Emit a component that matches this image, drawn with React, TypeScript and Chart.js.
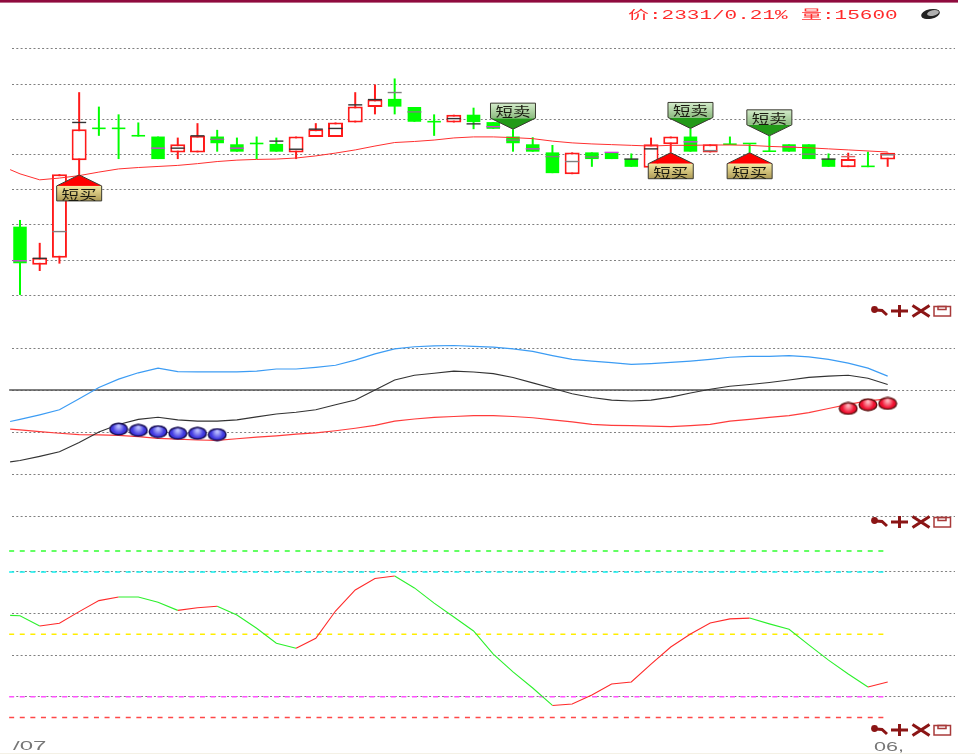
import React, { useEffect, useRef } from "react";
import Chart from "chart.js/auto";

const opens = [2309.5,2298.7,2300.7,2328.4,2337.2,2337.2,2335.1,2335.1,2330.6,2330.6,2335.1,2332.9,2332.9,2333,2330.6,2335,2335,2339.1,2343.5,2345.8,2343.5,2339.1,2339.1,2341.3,2339.2,2335.1,2332.9,2330.6,2324.4,2330.6,2330.6,2328.7,2326.2,2332.9,2335.1,2330.6,2332.7,2332.9,2330.7,2332.9,2332.9,2328.7,2326.4,2326.4,2328.6];
const closes = [2299.1,2300.7,2324.4,2337.2,2337.2,2337.2,2335.1,2328.7,2332.9,2335.3,2333.2,2330.8,2332.9,2330.8,2335.1,2337.2,2339.1,2343.6,2345.6,2343.6,2339.3,2339.1,2341.3,2339.2,2337.3,2333.2,2330.8,2324.7,2330.6,2328.7,2328.7,2326.5,2332.9,2335.1,2330.8,2332.9,2332.7,2332.9,2330.7,2330.8,2328.7,2326.5,2328.7,2326.4,2330.5];
const highs = [2311.4,2304.9,2324.4,2347.7,2343.6,2341.4,2339.1,2335.1,2334.8,2338.9,2337,2334.8,2335.1,2334.8,2335.1,2338.9,2339.1,2347.7,2349.9,2351.6,2343.5,2341.4,2341.3,2343.3,2339.2,2337.2,2334.9,2332.7,2330.6,2330.6,2330.6,2330.3,2334.8,2335.1,2337.4,2332.9,2335.1,2332.9,2335.3,2332.9,2332.9,2330.3,2330.5,2330.8,2330.5];
const lows = [2290.1,2296.9,2299,2324.2,2335.3,2328.7,2335.1,2328.7,2328.7,2330.6,2330.8,2330.8,2328.7,2330.8,2328.7,2335,2335,2339.1,2341.4,2341.4,2339.3,2335.3,2339.1,2337.2,2337.3,2330.8,2330.8,2324.7,2324.4,2326.5,2328.7,2326.5,2326.2,2330.5,2330.8,2330.6,2332.7,2330.5,2330.7,2330.8,2328.7,2326.5,2326.4,2326.4,2326.5];
const avgMarks = [2299.8,2300.5,2308.1,2339.1,null,null,null,2331.8,2331.8,2335.3,2334.3,2331.8,null,2333.8,2331.5,2337.2,2337.4,2344.1,2345.6,2347.6,2342.1,null,2340.2,2338.7,2337.9,2334.1,2331.6,2329.4,2328,2329.3,2330.6,2328.7,2331.6,null,2333.6,2331.1,null,null,null,2332.2,2330.1,2328.7,2329.4,null,2329.9];
const avgMarkKinds = "MDGD...MDDGM.DDDDDDGG.DDMGMGGGMDD.MG...MGDR.G";
const priceAvg = [2325.7,2324.5,2322.8,2323.3,2324,2325,2325.9,2326.3,2326.6,2326.9,2327.4,2328,2328.4,2328.6,2328.7,2329,2329.6,2330.4,2331.3,2332.4,2333.4,2333.7,2334.1,2334.7,2335,2335,2334.8,2334.5,2333.8,2333.3,2333,2332.8,2332.6,2332.4,2332.6,2332.6,2332.7,2332.7,2332.6,2332.3,2332.1,2331.9,2331.6,2331.3,2331,2330.7];
const buyAt = [3, 33, 37];
const sellAt = [25, 34, 38];

const upperLine = [-7.5,-7,-5.9,-4.7,-2.1,0.6,2.6,4.1,5.2,4.4,4.3,4.3,4.3,4.5,5,5,5.4,5.9,7.1,8.6,9.8,10.3,10.5,10.6,10.4,10.2,9.8,9.2,8.2,7.3,6.9,6.5,6.1,6.3,6.6,6.9,7.3,7.8,8,8,8.2,7.9,7.3,6.4,5.2,3.3];
const midLine = [-17.1,-16.8,-15.8,-14.7,-12.5,-10,-8.2,-7,-6.5,-7.1,-7.4,-7.4,-7.1,-6.4,-5.7,-5.3,-4.7,-3.5,-2.4,0,2.4,3.5,4,4.5,4.3,3.9,3,1.7,0.4,-0.9,-1.8,-2.4,-2.6,-2.4,-1.7,-0.7,0.2,0.9,1.3,1.8,2.4,3,3.3,3.5,2.8,1.3];
const lowerLine = [-9.3,-9.5,-9.9,-10.3,-10.6,-10.7,-10.8,-11.1,-11.5,-11.7,-11.9,-12,-11.6,-11.2,-10.9,-10.5,-10.2,-9.7,-9.1,-8.4,-7.4,-6.9,-6.5,-6.3,-6.1,-6.1,-6.3,-6.6,-7.1,-7.6,-8.2,-8.4,-8.5,-8.6,-8.7,-8.5,-8.2,-7.4,-7,-6.5,-6.1,-5.4,-4.4,-3.4,-2.6,-2.1];
const blueBallIndex = [5, 6, 7, 8, 9, 10];
const blueBallValues = [-9.3, -9.6, -9.9, -10.3, -10.3, -10.6];
const redBallIndex = [42, 43, 44];
const redBallValues = [-4.4, -3.5, -3.2];

const oscillator = [59.1,58.9,54,55.3,60.9,66.2,67.9,67.9,65.4,61.5,62.8,63.5,59.3,52.9,45.7,43.3,48.1,61.2,71.3,76.8,78,72.3,65,58.3,51.6,40.5,31.9,24.2,15.8,16.5,20.8,26.1,27.1,35.7,43.9,50.1,55.4,57.4,57.8,55,52.4,44.9,37.6,30.9,24.7,27.1];
const levels = [90, 80, 50, 20, 10];
const levelColors = ["#30ff30", "#10f0f0", "#ffee00", "#ff50ff", "#ff4848"];

const priceGrid = [2360, 2350, 2340, 2330, 2320, 2310, 2300, 2290];
const macdGrid = [10, 0, -10, -20, -30];
const oscGrid = [80, 60, 40, 20];
const macdMinorTicks = [20.8,19.2,17.6,11.9,7.9,5.9,4,2.1,-2.1,-3.9,-6,-7.9,-11.9,-13.9,-16,-18,-21.9,-24,-26,-27.9];
const oscMinorTicks = [91.8,87.6,84.1,75.8,71.9,67.8,63.8,55.9,51.7,48.1,43.9,36.1,31.9,27.9,24,15.9,12,8,3.8];

const headerPrice = "价:2331/0.21%";
const headerVolume = "量:15600";
const dateLeft = "/07";
const dateRight = "06,";
const buyText = "短买";
const sellText = "短卖";

const RED = "#ff1a1a";
const GREEN = "#00ff00";
const markColor: Record<string, string> = { M: "#d040d8", D: "#333333", G: "#808080", R: "#e06060" };

function makeBall(light: string, main: string, edge: string) {
  const c = document.createElement("canvas");
  c.width = 20;
  c.height = 14;
  const g = c.getContext("2d")!;
  const grad = g.createRadialGradient(10, 4, 1, 10, 7, 10);
  grad.addColorStop(0, light);
  grad.addColorStop(0.55, main);
  grad.addColorStop(1, main);
  g.fillStyle = grad;
  g.strokeStyle = edge;
  g.lineWidth = 1.5;
  g.beginPath();
  g.ellipse(10, 7, 8.8, 5.8, 0, 0, Math.PI * 2);
  g.fill();
  g.stroke();
  return c;
}

function pentagon(g: CanvasRenderingContext2D, x: number, tip: number, dir: 1 | -1, fillTri: string, c1: string, c2: string, text: string) {
  const hw = 22.5;
  const shoulder = tip + dir * 11;
  const far = tip + dir * 26;
  g.save();
  g.beginPath();
  g.moveTo(x, tip);
  g.lineTo(x + hw, shoulder);
  g.lineTo(x - hw, shoulder);
  g.closePath();
  g.fillStyle = fillTri;
  g.fill();
  const top = Math.min(shoulder, far);
  const h = Math.abs(far - shoulder);
  const grad = g.createLinearGradient(0, top, 0, top + h);
  grad.addColorStop(0, c1);
  grad.addColorStop(1, c2);
  g.fillStyle = grad;
  g.fillRect(x - hw, top, hw * 2, h);
  g.strokeStyle = "#3a3a30";
  g.lineWidth = 1;
  g.beginPath();
  g.moveTo(x, tip);
  g.lineTo(x + hw, shoulder);
  g.lineTo(x + hw, far);
  g.lineTo(x - hw, far);
  g.lineTo(x - hw, shoulder);
  g.closePath();
  g.stroke();
  g.translate(x, top + h / 2 + 0.5);
  g.scale(1.35, 1);
  g.font = '13px "Noto Sans CJK SC"';
  g.textAlign = "center";
  g.textBaseline = "middle";
  g.fillStyle = "#1a1a10";
  g.fillText(text, 0, 0);
  g.restore();
}

function toolIcons(g: CanvasRenderingContext2D, y: number) {
  g.save();
  g.strokeStyle = "#8b1515";
  g.fillStyle = "#8b1515";
  g.lineWidth = 3;
  g.lineCap = "butt";
  g.beginPath();
  g.arc(874.5, y - 1.5, 3.4, 0, Math.PI * 2);
  g.fill();
  g.beginPath();
  g.moveTo(876, y - 1);
  g.lineTo(882, y - 0.5);
  g.lineTo(887, y + 4);
  g.stroke();
  g.beginPath();
  g.moveTo(891, y);
  g.lineTo(908, y);
  g.moveTo(899.5, y - 6);
  g.lineTo(899.5, y + 6);
  g.stroke();
  g.beginPath();
  g.moveTo(912.5, y - 5.5);
  g.lineTo(929.5, y + 5.5);
  g.moveTo(929.5, y - 5.5);
  g.lineTo(912.5, y + 5.5);
  g.stroke();
  g.strokeStyle = "#a83a3a";
  g.lineWidth = 1.5;
  g.strokeRect(934, y - 4.5, 16.5, 9.5);
  g.strokeRect(938, y - 4.5, 8, 3);
  g.restore();
}

function stretched(g: CanvasRenderingContext2D, text: string, x: number, y: number, sx: number, font: string, color: string) {
  g.save();
  g.translate(x, y);
  g.scale(sx, 1);
  g.font = font;
  g.textAlign = "left";
  g.textBaseline = "middle";
  g.fillStyle = color;
  g.fillText(text, 0, 0);
  g.restore();
}

const decorations = {
  id: "decorations",
  afterDatasetsDraw(chart: any) {
    const g = chart.ctx as CanvasRenderingContext2D;
    const xs = chart.scales.x;
    const ys = chart.scales.y1;
    g.save();
    g.fillStyle = "#8f0b3e";
    g.fillRect(0, 0, 958, 2.6);
    g.fillStyle = "#f4f1e6";
    g.fillRect(0, 753, 975, 1);

    sellAt.forEach((i) => pentagon(g, xs.getPixelForValue(i), ys.getPixelForValue(highs[i]), -1, "#229a18", "#d4eccb", "#8dbb80", sellText));
    buyAt.forEach((i) => pentagon(g, xs.getPixelForValue(i), ys.getPixelForValue(lows[i]), 1, "#ff0000", "#f6e9a0", "#ad9a55", buyText));

    const font = '12px "Liberation Mono", "Noto Sans CJK SC"';
    stretched(g, headerPrice, 628, 16, 1.75, font, "#ff2a2a");
    stretched(g, headerVolume, 801, 16, 1.75, font, "#ff2a2a");
    stretched(g, dateLeft, 13, 747, 2, '12px "Liberation Sans"', "#777777");
    stretched(g, dateRight, 874, 748, 1.8, '12px "Liberation Sans"', "#777777");

    g.fillStyle = "#222222";
    g.beginPath();
    g.ellipse(930.5, 14, 9.5, 4.8, -0.2, 0, Math.PI * 2);
    g.fill();
    g.fillStyle = "#b0b0b0";
    g.beginPath();
    g.ellipse(933, 13, 6, 2.8, -0.2, 0, Math.PI * 2);
    g.fill();

    toolIcons(g, 311);
    toolIcons(g, 522);
    toolIcons(g, 730);
    g.restore();
  },
};

export default function App() {
  const ref = useRef<HTMLCanvasElement>(null);

  useEffect(() => {
    document.body.style.margin = "0";
    document.body.style.background = "#ffffff";
    const idx = opens.map((_, i) => i);
    const lineX = [-0.5, ...idx];
    const isUp = (i: number) => closes[i] > opens[i];
    const upIdx = idx.filter(isUp);
    const downIdx = idx.filter((i) => !isUp(i));
    const onLine = (vals: number[]) => vals.map((y, k) => ({ x: lineX[k], y }));
    const hiddenAxis = (min: number, max: number, grid: number[]) => ({
      type: "linear" as const,
      position: "left" as const,
      min,
      max,
      ticks: { display: false },
      grid: { color: "#808080", drawTicks: false, lineWidth: 1 },
      border: { display: false, dash: [2, 2.3] },
      afterBuildTicks: (axis: any) => {
        axis.ticks = grid.map((value) => ({ value }));
      },
    });
    const levelSets = levels.map((v, k) => ({
      type: "line" as const,
      yAxisID: "y3",
      data: [{ x: -0.55, y: v }, { x: 43.85, y: v }],
      borderColor: levelColors[k],
      borderWidth: 1.5,
      borderDash: [5, 5.6],
      pointRadius: 0,
      clip: false as const,
      order: 6,
    }));
    const chart = new Chart(ref.current!, {
      type: "bar",
      data: {
        datasets: [
          {
            type: "bar",
            yAxisID: "y1",
            data: idx.map((i) => ({ x: i, y: [lows[i], highs[i]] })) as any,
            backgroundColor: idx.map((i) => (isUp(i) ? RED : GREEN)),
            barPercentage: 1,
            maxBarThickness: 2,
            grouped: false,
            order: 5,
          },
          {
            type: "bar",
            yAxisID: "y1",
            data: upIdx.map((i) => ({ x: i, y: [opens[i], closes[i]] })) as any,
            backgroundColor: "#ffffff",
            borderColor: RED,
            borderWidth: 2,
            borderSkipped: false,
            barPercentage: 1,
            maxBarThickness: 15,
            grouped: false,
            order: 4,
          },
          {
            type: "bar",
            yAxisID: "y1",
            data: downIdx.map((i) => ({ x: i, y: [opens[i], closes[i]] })) as any,
            backgroundColor: GREEN,
            barPercentage: 1,
            maxBarThickness: 13.5,
            minBarLength: 1.6,
            grouped: false,
            order: 4,
          },
          {
            type: "line",
            yAxisID: "y1",
            data: idx.map((i) => ({ x: i, y: avgMarks[i] })),
            showLine: false,
            pointStyle: "line",
            pointRadius: 7,
            pointBorderWidth: 1.4,
            pointBorderColor: idx.map((i) => markColor[avgMarkKinds[i]] || "#333333"),
            order: 3,
          },
          {
            type: "line",
            yAxisID: "y1",
            data: onLine(priceAvg),
            borderColor: "#ff3030",
            borderWidth: 1,
            pointRadius: 0,
            clip: false,
            order: 2,
          },
          {
            type: "line",
            yAxisID: "y2",
            data: [{ x: -0.55, y: 0 }, { x: 44, y: 0 }],
            borderColor: "#555555",
            borderWidth: 1.4,
            pointRadius: 0,
            clip: false,
            order: 6,
          },
          {
            type: "line",
            yAxisID: "y2",
            data: onLine(upperLine),
            borderColor: "#3c9cf4",
            borderWidth: 1.2,
            pointRadius: 0,
            clip: false,
            order: 2,
          },
          {
            type: "line",
            yAxisID: "y2",
            data: onLine(midLine),
            borderColor: "#333333",
            borderWidth: 1.1,
            pointRadius: 0,
            clip: false,
            order: 2,
          },
          {
            type: "line",
            yAxisID: "y2",
            data: onLine(lowerLine),
            borderColor: "#ff3c3c",
            borderWidth: 1.2,
            pointRadius: 0,
            clip: false,
            order: 2,
          },
          {
            type: "line",
            yAxisID: "y2",
            data: blueBallIndex.map((x, k) => ({ x, y: blueBallValues[k] })),
            showLine: false,
            pointStyle: makeBall("#b8bcff", "#4038e0", "#140a50"),
            pointRadius: 9,
            order: 0,
          },
          {
            type: "line",
            yAxisID: "y2",
            data: redBallIndex.map((x, k) => ({ x, y: redBallValues[k] })),
            showLine: false,
            pointStyle: makeBall("#ffb0b8", "#f01030", "#601010"),
            pointRadius: 9,
            order: 0,
          },
          {
            type: "line",
            yAxisID: "y2",
            data: macdMinorTicks.map((y) => ({ x: 47.67, y })),
            showLine: false,
            pointStyle: "line",
            pointRadius: 2,
            pointBorderWidth: 1,
            pointBorderColor: "#555555",
            clip: false,
            order: 7,
          },
          ...levelSets,
          {
            type: "line",
            yAxisID: "y3",
            data: onLine(oscillator),
            borderWidth: 1.1,
            pointRadius: 0,
            borderColor: GREEN,
            clip: false,
            segment: {
              borderColor: (c: any) => (c.p1.parsed.y > c.p0.parsed.y ? "#ff2a2a" : "#2cf02c"),
            },
            order: 1,
          },
          {
            type: "line",
            yAxisID: "y3",
            data: oscMinorTicks.map((y) => ({ x: 47.67, y })),
            showLine: false,
            pointStyle: "line",
            pointRadius: 2,
            pointBorderWidth: 1,
            pointBorderColor: "#555555",
            clip: false,
            order: 7,
          },
        ] as any,
      },
      options: {
        responsive: false,
        animation: false,
        events: [],
        layout: { padding: { left: 12, right: 20, top: 0, bottom: 0 } },
        plugins: { legend: { display: false }, tooltip: { enabled: false } },
        scales: {
          x: { type: "linear", display: false, offset: false, min: -0.4057, max: 47.414 },
          y1: hiddenAxis(2162.24, 2371.05, priceGrid),
          y2: hiddenAxis(-84.52, 90.48, macdGrid),
          y3: hiddenAxis(-3.22, 350.14, oscGrid),
        },
      },
      plugins: [decorations],
    } as any);
    return () => chart.destroy();
  }, []);

  return (
    <div style={{ position: "absolute", left: 0, top: 0, width: 975, height: 755, background: "#ffffff" }}>
      <canvas ref={ref} width={975} height={755} style={{ display: "block" }} />
    </div>
  );
}
